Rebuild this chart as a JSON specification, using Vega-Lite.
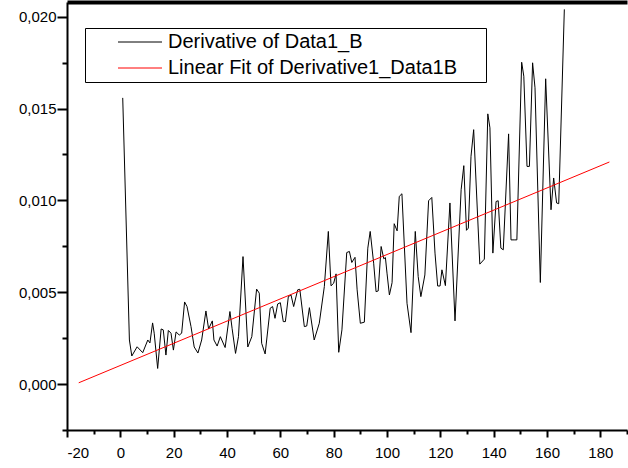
{
  "$schema": "https://vega.github.io/schema/vega-lite/v6.json",
  "width": 560,
  "height": 428,
  "autosize": {"type": "none"},
  "padding": {"left": 67, "top": 2, "right": 1, "bottom": 38},
  "background": "white",
  "config": {
    "view": {"stroke": null},
    "axis": {"grid": false, "domainColor": "black", "tickColor": "black", "labelColor": "black", "labelFont": "Liberation Sans", "labelFontSize": 15, "title": null}
  },
  "datasets": {
    "deriv": [
      {"x": 0.9, "y": 0.01558}, {"x": 3.4, "y": 0.0024}, {"x": 4.3, "y": 0.00153}, {"x": 6.3, "y": 0.00203},
      {"x": 8.4, "y": 0.00171}, {"x": 10.3, "y": 0.0024}, {"x": 11.1, "y": 0.00224}, {"x": 12.1, "y": 0.00333},
      {"x": 12.7, "y": 0.00277}, {"x": 14.0, "y": 0.00085}, {"x": 15.3, "y": 0.003}, {"x": 16.1, "y": 0.00295},
      {"x": 17.1, "y": 0.00158}, {"x": 18.0, "y": 0.00292}, {"x": 19.0, "y": 0.00277}, {"x": 19.9, "y": 0.00185},
      {"x": 20.9, "y": 0.00284}, {"x": 22.1, "y": 0.00267}, {"x": 23.0, "y": 0.00277}, {"x": 24.1, "y": 0.00447},
      {"x": 25.0, "y": 0.00422}, {"x": 26.5, "y": 0.00313}, {"x": 27.7, "y": 0.00202}, {"x": 29.1, "y": 0.00169},
      {"x": 30.5, "y": 0.0024}, {"x": 32.1, "y": 0.00398}, {"x": 33.1, "y": 0.003}, {"x": 34.5, "y": 0.00344},
      {"x": 35.1, "y": 0.0024}, {"x": 36.3, "y": 0.00207}, {"x": 37.5, "y": 0.00258}, {"x": 39.3, "y": 0.00199},
      {"x": 41.1, "y": 0.00395}, {"x": 41.9, "y": 0.00304}, {"x": 43.2, "y": 0.00167}, {"x": 44.3, "y": 0.00258},
      {"x": 46.0, "y": 0.00694}, {"x": 47.8, "y": 0.00202}, {"x": 49.3, "y": 0.00258}, {"x": 51.1, "y": 0.00517},
      {"x": 52.1, "y": 0.00495}, {"x": 53.0, "y": 0.00222}, {"x": 54.3, "y": 0.00164}, {"x": 56.2, "y": 0.00413},
      {"x": 57.1, "y": 0.00422}, {"x": 58.0, "y": 0.00358}, {"x": 59.0, "y": 0.00436}, {"x": 60.0, "y": 0.00443},
      {"x": 61.1, "y": 0.0034}, {"x": 61.9, "y": 0.0034}, {"x": 63.0, "y": 0.00476}, {"x": 64.0, "y": 0.00485},
      {"x": 65.0, "y": 0.00422}, {"x": 66.5, "y": 0.00513}, {"x": 67.3, "y": 0.00516}, {"x": 69.0, "y": 0.00313},
      {"x": 69.9, "y": 0.00316}, {"x": 70.9, "y": 0.00416}, {"x": 72.7, "y": 0.0024}, {"x": 74.6, "y": 0.00331},
      {"x": 76.5, "y": 0.00531}, {"x": 78.0, "y": 0.00831}, {"x": 79.0, "y": 0.00535}, {"x": 80.0, "y": 0.00549},
      {"x": 80.9, "y": 0.006}, {"x": 81.9, "y": 0.00173}, {"x": 83.1, "y": 0.00295}, {"x": 84.9, "y": 0.00716},
      {"x": 85.9, "y": 0.00722}, {"x": 86.8, "y": 0.00662}, {"x": 88.0, "y": 0.0069}, {"x": 88.8, "y": 0.00513},
      {"x": 90.0, "y": 0.00331}, {"x": 91.5, "y": 0.00337}, {"x": 92.8, "y": 0.0074}, {"x": 93.7, "y": 0.00831},
      {"x": 95.0, "y": 0.00658}, {"x": 95.9, "y": 0.00503}, {"x": 96.7, "y": 0.00507}, {"x": 97.8, "y": 0.00749},
      {"x": 98.8, "y": 0.00682}, {"x": 99.4, "y": 0.00689}, {"x": 100.0, "y": 0.00604}, {"x": 100.9, "y": 0.00485},
      {"x": 101.9, "y": 0.00552}, {"x": 102.7, "y": 0.00873}, {"x": 103.8, "y": 0.00834}, {"x": 104.6, "y": 0.01022},
      {"x": 105.6, "y": 0.01036}, {"x": 107.5, "y": 0.0044}, {"x": 109.0, "y": 0.0028}, {"x": 110.6, "y": 0.00831},
      {"x": 111.7, "y": 0.00585}, {"x": 112.7, "y": 0.00476}, {"x": 114.2, "y": 0.00594}, {"x": 115.6, "y": 0.00998},
      {"x": 116.8, "y": 0.01016}, {"x": 118.0, "y": 0.00713}, {"x": 119.0, "y": 0.00534}, {"x": 119.9, "y": 0.00534},
      {"x": 120.6, "y": 0.00622}, {"x": 121.9, "y": 0.00536}, {"x": 123.6, "y": 0.00986}, {"x": 125.5, "y": 0.00344},
      {"x": 127.8, "y": 0.01058}, {"x": 128.8, "y": 0.01189}, {"x": 129.8, "y": 0.00837}, {"x": 130.5, "y": 0.00849},
      {"x": 131.5, "y": 0.0124}, {"x": 132.5, "y": 0.01385}, {"x": 134.8, "y": 0.00653}, {"x": 136.5, "y": 0.0068},
      {"x": 137.8, "y": 0.01471}, {"x": 138.6, "y": 0.01395}, {"x": 139.7, "y": 0.00713}, {"x": 140.9, "y": 0.00994},
      {"x": 141.7, "y": 0.00998}, {"x": 142.7, "y": 0.0074}, {"x": 143.6, "y": 0.00731}, {"x": 145.6, "y": 0.01362},
      {"x": 146.5, "y": 0.00785}, {"x": 147.7, "y": 0.00785}, {"x": 148.7, "y": 0.00785}, {"x": 150.5, "y": 0.01752},
      {"x": 151.3, "y": 0.01676}, {"x": 152.5, "y": 0.01185}, {"x": 153.4, "y": 0.01185}, {"x": 154.6, "y": 0.01749},
      {"x": 155.5, "y": 0.01613}, {"x": 157.5, "y": 0.00553}, {"x": 159.5, "y": 0.01662}, {"x": 161.5, "y": 0.00949},
      {"x": 162.5, "y": 0.01122}, {"x": 163.6, "y": 0.00986}, {"x": 164.4, "y": 0.00982}, {"x": 166.5, "y": 0.0204}
    ],
    "fit": [
      {"x": -15.6, "y": 0.00007},
      {"x": 183.4, "y": 0.01209}
    ]
  },
  "layer": [
    {
      "data": {"name": "deriv"},
      "mark": {"type": "line", "strokeWidth": 1, "clip": true},
      "encoding": {
        "x": {
          "field": "x", "type": "quantitative",
          "scale": {"domain": [-20, 190], "nice": false, "zero": false},
          "axis": {
            "orient": "bottom",
            "values": [-20, -10, 0, 10, 20, 30, 40, 50, 60, 70, 80, 90, 100, 110, 120, 130, 140, 150, 160, 170, 180, 190],
            "tickSize": {"condition": {"test": "datum.value % 20 === 0", "value": 7}, "value": 4},
            "labelExpr": "datum.value % 20 === 0 ? '' + datum.value : ''",
            "labelOverlap": false,
            "labelPadding": 8,
            "domainWidth": 2,
            "tickWidth": 2
          }
        },
        "y": {
          "field": "y", "type": "quantitative",
          "scale": {"domain": [-0.0025, 0.0208], "nice": false, "zero": false},
          "axis": {
            "orient": "left",
            "values": [-0.0025, 0, 0.0025, 0.005, 0.0075, 0.01, 0.0125, 0.015, 0.0175, 0.02],
            "tickSize": {"condition": {"test": "round(datum.value * 10000) % 50 === 0", "value": 10}, "value": 5},
            "labelExpr": "round(datum.value * 10000) % 50 === 0 ? replace(format(datum.value, '.3f'), '.', ',') : ''",
            "labelOverlap": false,
            "labelPadding": 1,
            "domainWidth": 2,
            "tickWidth": 2
          }
        },
        "color": {
          "datum": "Derivative of Data1_B",
          "type": "nominal",
          "scale": {"domain": ["Derivative of Data1_B", "Linear Fit of Derivative1_Data1B"], "range": ["black", "#ff0000"]},
          "legend": {
            "orient": "none", "legendX": 18, "legendY": 26,
            "title": "\u00a0", "titleOrient": "right", "titlePadding": 25, "titleFontSize": 4,
            "symbolType": "M-4,0H4", "symbolSize": 121, "symbolStrokeWidth": 1,
            "symbolStrokeColor": {"expr": "scale('color', datum.value)"},
            "labelFontSize": 20, "labelFont": "Liberation Sans", "labelColor": "black", "labelLimit": 0,
            "strokeColor": "black", "fillColor": "white", "padding": 4, "rowPadding": 6,
            "symbolOffset": 41, "labelOffset": 18
          }
        }
      }
    },
    {
      "data": {"name": "fit"},
      "mark": {"type": "line", "strokeWidth": 1, "clip": true},
      "encoding": {
        "x": {
          "field": "x", "type": "quantitative",
          "scale": {"domain": [-20, 190], "nice": false, "zero": false},
          "axis": {"orient": "top", "labels": false, "ticks": false, "domainWidth": 4}
        },
        "y": {"field": "y", "type": "quantitative"},
        "color": {"datum": "Linear Fit of Derivative1_Data1B", "type": "nominal"}
      }
    }
  ],
  "resolve": {"axis": {"x": "independent"}}
}
